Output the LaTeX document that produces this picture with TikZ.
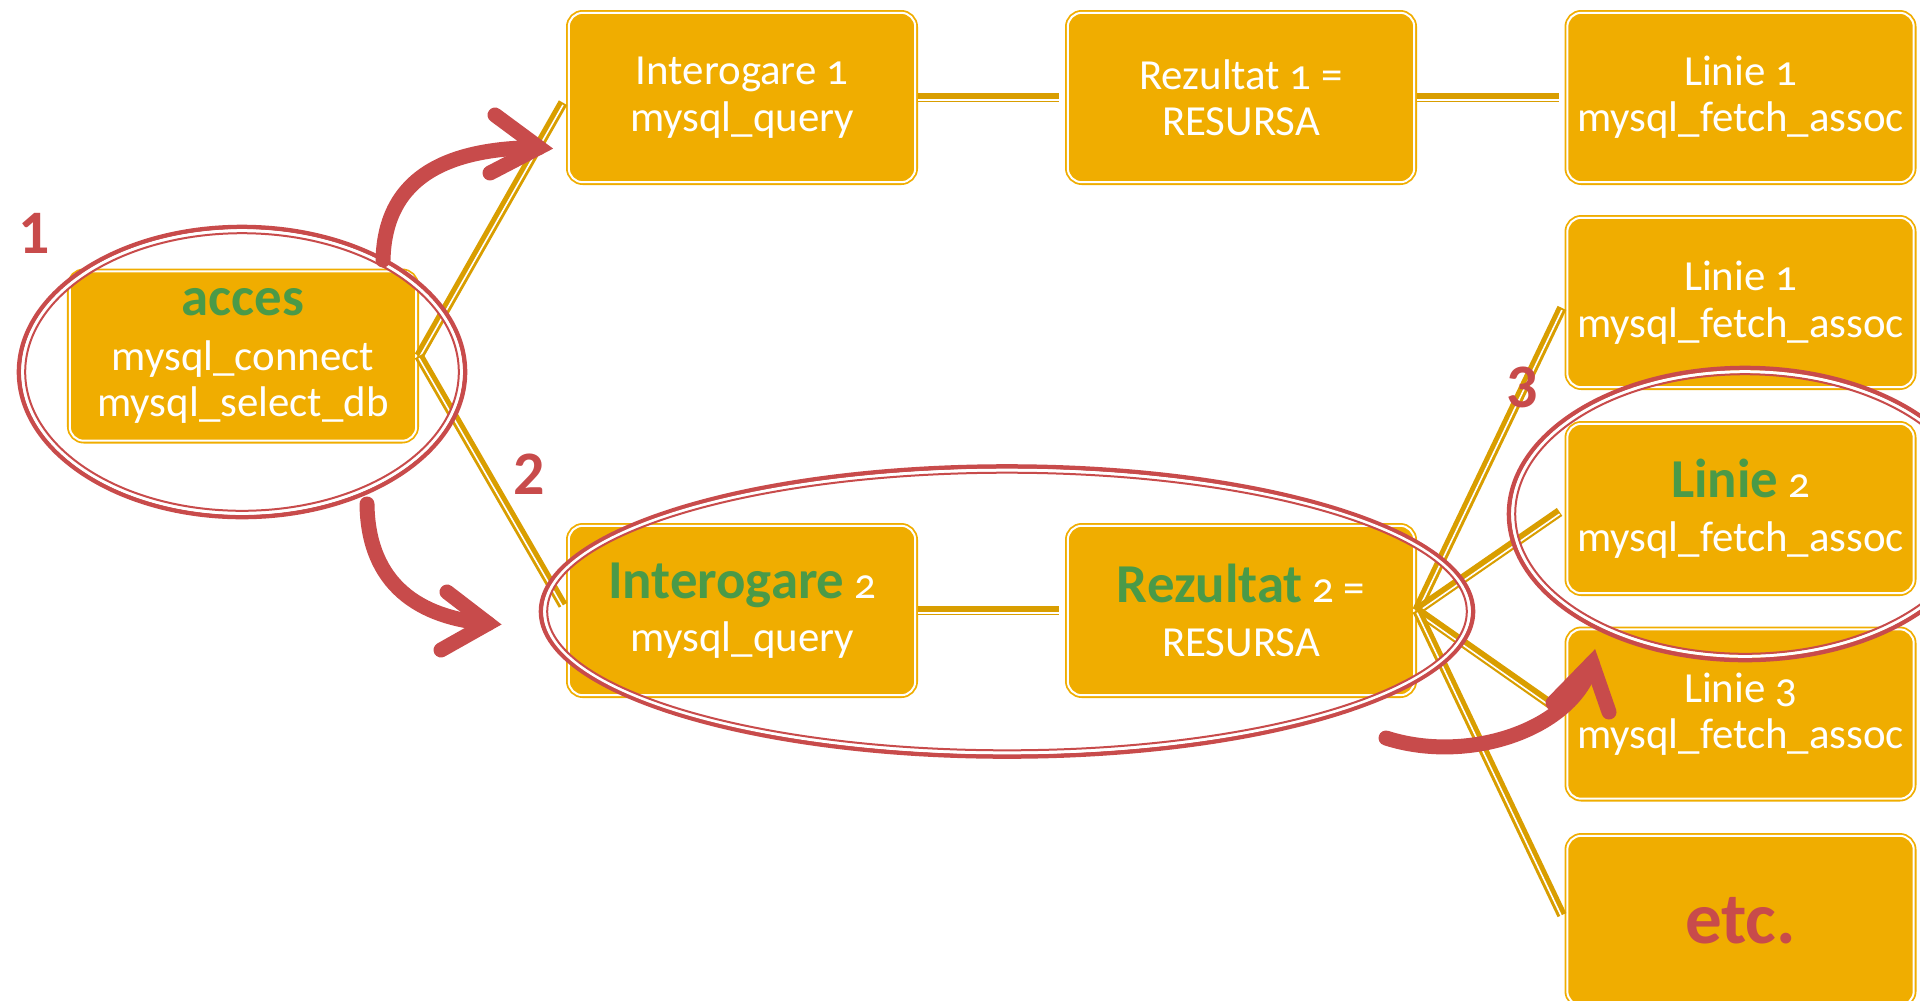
\documentclass[tikz,border=0pt]{standalone}
\usepackage{fontspec}
\setmainfont{Carlito}[Numbers=OldStyle]
\newfontfamily\numfont{Carlito}[Numbers=Lining]
\definecolor{boxorange}{HTML}{F0AD00}
\definecolor{linkgold}{HTML}{D99E00}
\definecolor{markred}{HTML}{C84B4B}
\definecolor{titlegreen}{HTML}{4A9A48}
\newcommand{\greenword}[1]{{\color{titlegreen}\fontsize{39}{39}\selectfont\bfseries #1}}
\newcommand{\markring}[3]{%
  \draw[markred,line width=1.15mm] (#1) ellipse [x radius=#2, y radius=#3];
  \draw[white,line width=0.8mm] (#1) ellipse [x radius=#2-3.8, y radius=#3-3.8];
  \draw[markred,line width=0.5mm] (#1) ellipse [x radius=#2-6.2, y radius=#3-6.2];}

\begin{document}
\begin{tikzpicture}[x=0.25mm,y=-0.25mm,
  box/.style={rectangle,rounded corners=3.5mm,fill=boxorange,draw=boxorange,double=white,
    line width=0.45mm,double distance=0.5mm,minimum width=86.6mm,minimum height=42.35mm,
    inner sep=0pt,outer sep=0.7mm,align=center,text=white,font=\fontsize{30.5}{33}\selectfont},
  link/.style={draw=linkgold,line width=2.4mm,shorten >=1.5mm,
    postaction={draw=white,line width=0.4mm,transform canvas={yshift=-0.55mm}}},
  bigarrow/.style={draw=markred,line width=3.75mm,line cap=round,line join=miter},
  numlabel/.style={text=markred,font=\numfont\bfseries\fontsize{44}{44}\selectfont}]
  \useasboundingbox (0,0) rectangle (1920,1000);
  \clip (0,0) rectangle (1920,1000);

  % boxes
  \node[box] (acc) at (243,356) {\greenword{acces}\\[6pt]mysql\_connect\\mysql\_select\_db};
  \node[box] (int1) at (742,97.5) {Interogare 1\\mysql\_query};
  \node[box] (rez1) at (1241,97.5) {Rezultat 1 =\\RESURSA};
  \node[box] (lin1a) at (1740.5,97.5) {Linie 1\\mysql\_fetch\_assoc};
  \node[box] (int2) at (742,610.5) {\greenword{Interogare} 2\\[5pt]mysql\_query};
  \node[box] (rez2) at (1241,610.5) {\greenword{Rezultat} 2 =\\[5pt]RESURSA};
  \node[box] (lin1b) at (1740.5,302.5) {Linie 1\\mysql\_fetch\_assoc};
  \node[box] (lin2) at (1740.5,508.5) {\greenword{Linie} 2\\[5pt]mysql\_fetch\_assoc};
  \node[box] (lin3) at (1740.5,714) {Linie 3\\mysql\_fetch\_assoc};
  \node[box,text=markred,font=\fontsize{52}{52}\selectfont\bfseries] (etc) at (1740.5,920.5) {etc.};

  % connectors
  \draw[link] (acc.east) -- (int1.west);
  \draw[link] (acc.east) -- (int2.west);
  \draw[link] (int1.east) -- (rez1.west);
  \draw[link] (rez1.east) -- (lin1a.west);
  \draw[link] (int2.east) -- (rez2.west);
  \foreach \n in {lin1b,lin2,lin3,etc}
    \draw[link] (rez2.east) -- (\n.west);

  % step numbers
  \node[numlabel] (n1) at (34,233) {1};
  \node[numlabel] (n2) at (529,474) {2};
  \node[numlabel] (n3) at (1522,387) {3};

  % rings
  \markring{242,372}{223}{145}
  \markring{1007,611.5}{466}{145}
  \markring{1745,514}{236}{146}

  % red arrows
  \draw[bigarrow] (383,260) .. controls (385,175) and (450,148) .. (539,147.5);
  \draw[bigarrow] (495,115) -- (539,147.5) -- (490,173);
  \draw[bigarrow] (367,504) .. controls (368,585) and (420,618) .. (488,623.5);
  \draw[bigarrow] (447,592) -- (488,623.5) -- (441,650);
  \draw[bigarrow] (1386,738) .. controls (1470,765) and (1575,728) .. (1592,663);
  \draw[bigarrow] (1553,703) -- (1592,663) -- (1609,712);
\end{tikzpicture}
\end{document}
